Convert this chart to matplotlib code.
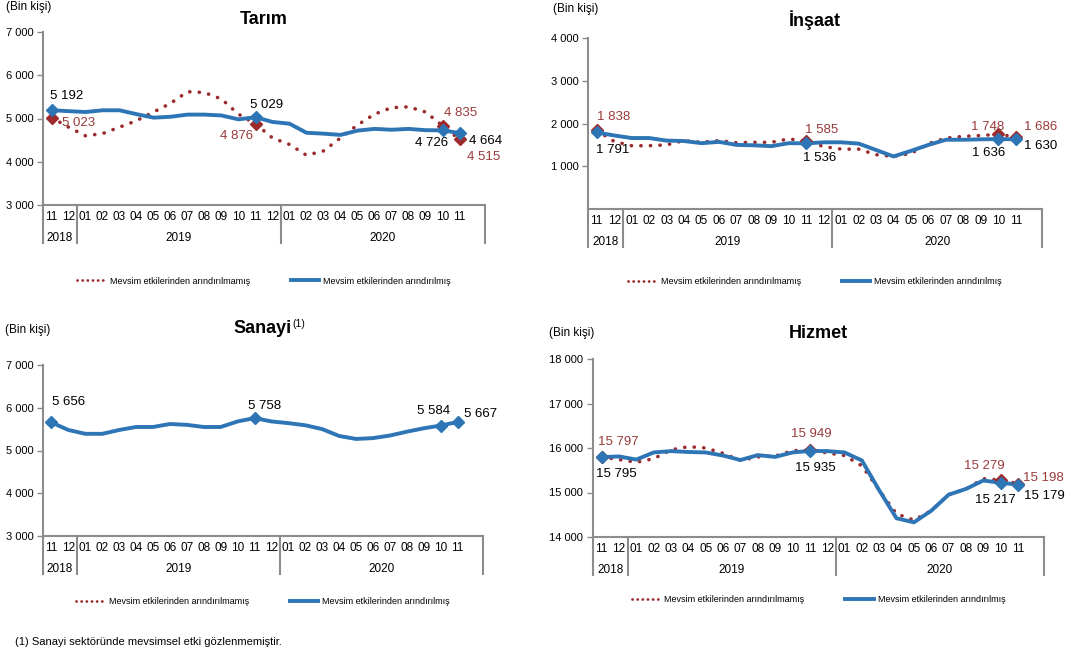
import matplotlib
matplotlib.use("Agg")
import matplotlib.pyplot as plt
from matplotlib.lines import Line2D

plt.rcParams.update({"font.family": ["Liberation Sans", "DejaVu Sans"]})

BLUE = "#2E75B6"
RED = "#9C2B2E"
RED_TXT = "#9A3A3A"
GREY = "#8C8C8C"
DOTS = (0, (0.05, 2.6))
W, H = 1084, 652

months = ["11", "12", "01", "02", "03", "04", "05", "06", "07", "08", "09", "10", "11",
          "12", "01", "02", "03", "04", "05", "06", "07", "08", "09", "10", "11"]
years = ["2018", "2019", "2020"]
year_bounds = [-0.5, 1.5, 13.5, 25.5]

tarim_adj = [5192, 5170, 5150, 5190, 5190, 5100, 5020, 5040, 5090, 5090, 5070, 4980, 5029,
             4920, 4880, 4670, 4650, 4620, 4720, 4760, 4740, 4760, 4730, 4726, 4664]
tarim_raw = [5023, 4800, 4600, 4650, 4800, 4950, 5150, 5350, 5620, 5600, 5450, 5100, 4876,
             4550, 4400, 4150, 4250, 4550, 4850, 5100, 5250, 5270, 5150, 4835, 4515]
insaat_adj = [1791, 1720, 1660, 1660, 1600, 1590, 1540, 1570, 1500, 1490, 1470, 1540, 1536,
              1560, 1560, 1530, 1380, 1230, 1360, 1500, 1620, 1620, 1630, 1636, 1630]
insaat_raw = [1838, 1580, 1480, 1480, 1500, 1600, 1560, 1600, 1550, 1560, 1560, 1640, 1585,
              1460, 1400, 1400, 1270, 1230, 1300, 1530, 1660, 1700, 1720, 1748, 1686]
sanayi_adj = [5656, 5480, 5390, 5390, 5480, 5550, 5550, 5620, 5600, 5550, 5550, 5680, 5758,
              5680, 5640, 5590, 5500, 5340, 5270, 5290, 5350, 5440, 5520, 5584, 5667]
hizmet_adj = [15795, 15810, 15740, 15900, 15930, 15910, 15900, 15830, 15730, 15840, 15800, 15900, 15935,
              15930, 15900, 15720, 15050, 14420, 14330, 14590, 14950, 15080, 15270, 15217, 15179]
hizmet_raw = [15797, 15740, 15680, 15760, 15960, 16030, 16000, 15880, 15720, 15800, 15820, 15940, 15949,
              15890, 15830, 15600, 15050, 14520, 14380, 14590, 14950, 15080, 15310, 15279, 15198]

marked = [0, 12, 23, 24]
leg_raw = "Mevsim etkilerinden arındırılmamış"
leg_adj = "Mevsim etkilerinden arındırılmış"


def fmt(v):
    return f"{v:,}".replace(",", " ")


def panel(rect, title, adj, raw, yticks, ylim, labels, title_pad, unit_xy, legend_y):
    l, t, r, b = rect
    ax = fig.add_axes([l / W, 1 - b / H, (r - l) / W, (b - t) / H])
    x = list(range(len(months)))
    if raw is not None:
        ax.plot(x, raw, color=RED, lw=2.6, ls=DOTS, dash_capstyle="round", zorder=2)
        ax.plot(marked, [raw[i] for i in marked], ls="none", marker="D", ms=6,
                color=RED, zorder=4)
    ax.plot(x, adj, color=BLUE, lw=2.8, solid_capstyle="round", zorder=3)
    ax.plot(marked, [adj[i] for i in marked], ls="none", marker="D", ms=6,
            color=BLUE, zorder=5)

    for series, i, dx, dy in labels:
        vals = raw if series == "raw" else adj
        ax.annotate(fmt(vals[i]), (i, vals[i]), xytext=(dx, -dy), textcoords="offset pixels",
                    ha="center", va="center", fontsize=9.5,
                    color=RED_TXT if series == "raw" else "black", zorder=6)

    ax.set_xlim(-0.5, 25.5)
    ax.set_ylim(*ylim)
    ax.set_yticks(yticks, [fmt(v) for v in yticks])
    ax.set_xticks(x, months)
    ax.tick_params(axis="x", length=0, pad=4, labelsize=8.5)
    ax.tick_params(axis="y", length=4, width=1, color=GREY, labelsize=8, pad=3)
    for s in ("top", "right"):
        ax.spines[s].set_visible(False)
    for s in ("left", "bottom"):
        ax.spines[s].set_color(GREY)
        ax.spines[s].set_linewidth(1.5)

    frac = 38 / (b - t)
    for xb in year_bounds:
        ax.plot([xb, xb], [0, -frac], transform=ax.get_xaxis_transform(),
                color=GREY, lw=1.5, clip_on=False)
    for k, yr in enumerate(years):
        xc = (year_bounds[k] + year_bounds[k + 1]) / 2
        ax.annotate(yr, (xc, 0), xycoords=ax.get_xaxis_transform(), xytext=(0, -33),
                    textcoords="offset pixels", ha="center", va="center", fontsize=8.5)

    ttl = ax.set_title(title, fontsize=13, fontweight="bold", pad=title_pad)
    fig.text(unit_xy[0] / W, 1 - unit_xy[1] / H, "(Bin kişi)", fontsize=8.5,
             ha="left", va="center")

    handles = [Line2D([], [], color=RED, lw=2.0, ls=(0, (0.05, 1.8)), dash_capstyle="round"),
               Line2D([], [], color=BLUE, lw=2.8)]
    ax.legend(handles, [leg_raw, leg_adj], ncol=2, loc="center",
              bbox_to_anchor=(0.5, -(legend_y - b) / (b - t)), frameon=False,
              fontsize=6.5, handlelength=3.2, handletextpad=0.4, columnspacing=4.5)
    return ax, ttl


fig = plt.figure(figsize=(W / 100, H / 100), dpi=100)

panel((43, 32, 485, 205), "Tarım", tarim_adj, tarim_raw,
      [3000, 4000, 5000, 6000, 7000], (3000, 7000),
      [("adj", 0, 15, -14), ("raw", 0, 27, 5), ("adj", 12, 11, -12), ("raw", 12, -19, 12),
       ("raw", 23, 18, -13), ("adj", 23, -11, 13), ("adj", 24, 26, 8), ("raw", 24, 24, 18)],
      6, (6, 7), 281)

panel((588, 38, 1042, 209), "İnşaat", insaat_adj, insaat_raw,
      [1000, 2000, 3000, 4000], (0, 4000),
      [("raw", 0, 17, -13), ("adj", 0, 16, 18), ("raw", 12, 15, -11), ("adj", 12, 13, 15),
       ("raw", 23, -11, -7), ("adj", 23, -10, 14), ("raw", 24, 25, -10), ("adj", 24, 25, 7)],
      9, (553, 9), 282)

ax3, ttl3 = panel((43, 365, 483, 536), "Sanayi", sanayi_adj, None,
                  [3000, 4000, 5000, 6000, 7000], (3000, 7000),
                  [("adj", 0, 17, -20), ("adj", 12, 10, -12), ("adj", 23, -7, -15),
                   ("adj", 24, 23, -8)],
                  23, (5, 330), 602)
ax3.annotate("(1)", xy=(1, 1), xycoords=ttl3, xytext=(0.5, 1), textcoords="offset points",
             ha="left", va="top", fontsize=7.5)

panel((593, 359, 1044, 537), "Hizmet", hizmet_adj, hizmet_raw,
      [14000, 15000, 16000, 17000, 18000], (14000, 18000),
      [("raw", 0, 17, -15), ("adj", 0, 15, 17), ("raw", 12, 1, -16), ("adj", 12, 5, 17),
       ("raw", 23, -16, -14), ("adj", 23, -5, 17), ("raw", 24, 25, -6), ("adj", 24, 26, 11)],
      15, (549, 333), 600)

fig.text(15 / W, 1 - 642 / H, "(1) Sanayi sektöründe mevsimsel etki gözlenmemiştir.",
         fontsize=8, ha="left", va="center")

fig.savefig("out.png", dpi=100, facecolor="white")
